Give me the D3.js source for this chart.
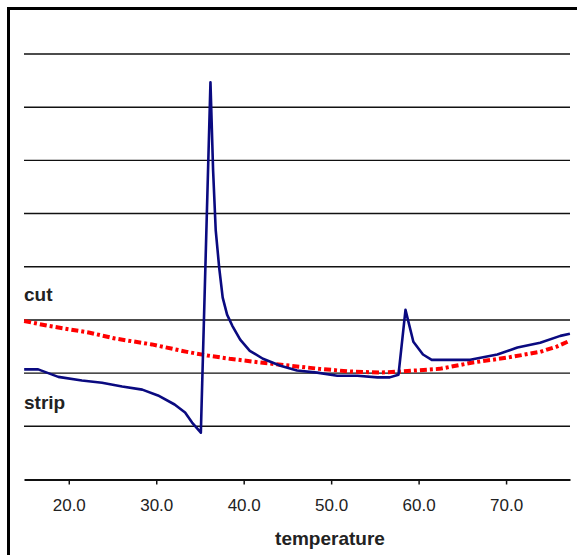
<!DOCTYPE html>
<html>
<head>
<meta charset="utf-8">
<script src="https://cdn.jsdelivr.net/npm/d3@7"></script>
<style>
  body { margin: 0; background: #fff; }
  svg { display: block; font-family: "Liberation Sans", Arial, sans-serif; }
</style>
</head>
<body>
<div id="chart"></div>
<script>
// temperature / value pairs
const tickLabels = [20, 30, 40, 50, 60, 70];
const gridValues = [1, 2, 3, 4, 5, 6, 7, 8];

const stripTemp = [14.9, 16.5, 18.8, 21.5, 23.8, 26.1, 28.4, 30.2, 32.1, 33.3, 34.1, 35.1,
  36.2, 36.5, 36.8, 37.2, 37.6, 38.1, 38.7, 39.6, 40.7, 42.2, 44.2, 46.1, 48.4, 50.7,
  53.0, 55.3, 56.7, 57.7, 58.5, 59.4, 60.5, 61.5, 65.9, 69.0, 71.3, 73.9, 76.2, 77.3];
const stripValue = [2.07, 2.07, 1.93, 1.86, 1.82, 1.75, 1.69, 1.58, 1.41, 1.26, 1.07, 0.88,
  7.47, 5.82, 4.69, 3.98, 3.42, 3.10, 2.89, 2.63, 2.42, 2.27, 2.14, 2.05, 2.01, 1.95,
  1.95, 1.92, 1.92, 1.97, 3.19, 2.59, 2.35, 2.25, 2.25, 2.35, 2.48, 2.57, 2.70, 2.74];

const cutTemp = [14.9, 17.6, 22.4, 25.3, 29.5, 33.5, 35.9, 38.4, 41.9, 45.3, 48.7,
  52.2, 55.6, 57.9, 62.4, 66.2, 70.1, 73.9, 75.8, 77.3];
const cutValue = [2.98, 2.89, 2.76, 2.65, 2.54, 2.40, 2.33, 2.27, 2.20, 2.14, 2.08,
  2.03, 2.01, 2.03, 2.08, 2.20, 2.29, 2.40, 2.50, 2.61];

const width = 577, height = 555;

const svg = d3.select('#chart')
  .append('svg')
  .attr('width', width)
  .attr('height', height);

svg.append('rect')
  .attr('width', width).attr('height', height)
  .attr('fill', '#fff');

// outer frame (only left and top edges show)
svg.append('rect')
  .attr('x', 8.5).attr('y', 8.5)
  .attr('width', 700).attr('height', 700)
  .attr('fill', 'none')
  .attr('stroke', '#000')
  .attr('stroke-width', 3);

const x = d3.scaleLinear().domain([14.88, 77.31]).range([24, 570]);
const y = d3.scaleLinear().domain([0, 8]).range([479.5, 54]);

// gridlines
svg.append('g')
  .selectAll('line')
  .data(gridValues)
  .enter()
  .append('line')
  .attr('x1', x.range()[0]).attr('x2', x.range()[1])
  .attr('y1', d => y(d)).attr('y2', d => y(d))
  .attr('stroke', '#111')
  .attr('stroke-width', 1.4);

// x axis
const xAxis = d3.axisBottom(x)
  .tickValues(tickLabels)
  .tickFormat(d3.format('.1f'))
  .tickSize(5)
  .tickPadding(14)
  .tickSizeOuter(0);

const gx = svg.append('g')
  .attr('transform', `translate(0,${y(0)})`)
  .call(xAxis);
gx.select('.domain').attr('stroke', '#111').attr('stroke-width', 2);
gx.selectAll('.tick line').attr('stroke', '#111').attr('stroke-width', 1.5);
gx.selectAll('.tick text')
  .attr('fill', '#222')
  .style('font-size', '17px');

const line = d3.line()
  .x(d => x(d[0]))
  .y(d => y(d[1]));

svg.append('path')
  .datum(d3.zip(cutTemp, cutValue))
  .attr('d', line)
  .attr('fill', 'none')
  .attr('stroke', '#ff0000')
  .attr('stroke-width', 4)
  .attr('stroke-dasharray', '7,3,3,3');

svg.append('path')
  .datum(d3.zip(stripTemp, stripValue))
  .attr('d', line)
  .attr('fill', 'none')
  .attr('stroke', '#0a0a80')
  .attr('stroke-width', 2.6)
  .attr('stroke-linejoin', 'round');

// labels
svg.append('text')
  .attr('x', 24).attr('y', 301)
  .attr('fill', '#222')
  .style('font-size', '19px').style('font-weight', 'bold')
  .text('cut');

svg.append('text')
  .attr('x', 24).attr('y', 409)
  .attr('fill', '#222')
  .style('font-size', '19px').style('font-weight', 'bold')
  .text('strip');

svg.append('text')
  .attr('x', 330).attr('y', 545)
  .attr('text-anchor', 'middle')
  .attr('fill', '#222')
  .style('font-size', '19px').style('font-weight', 'bold')
  .text('temperature');
</script>
</body>
</html>
